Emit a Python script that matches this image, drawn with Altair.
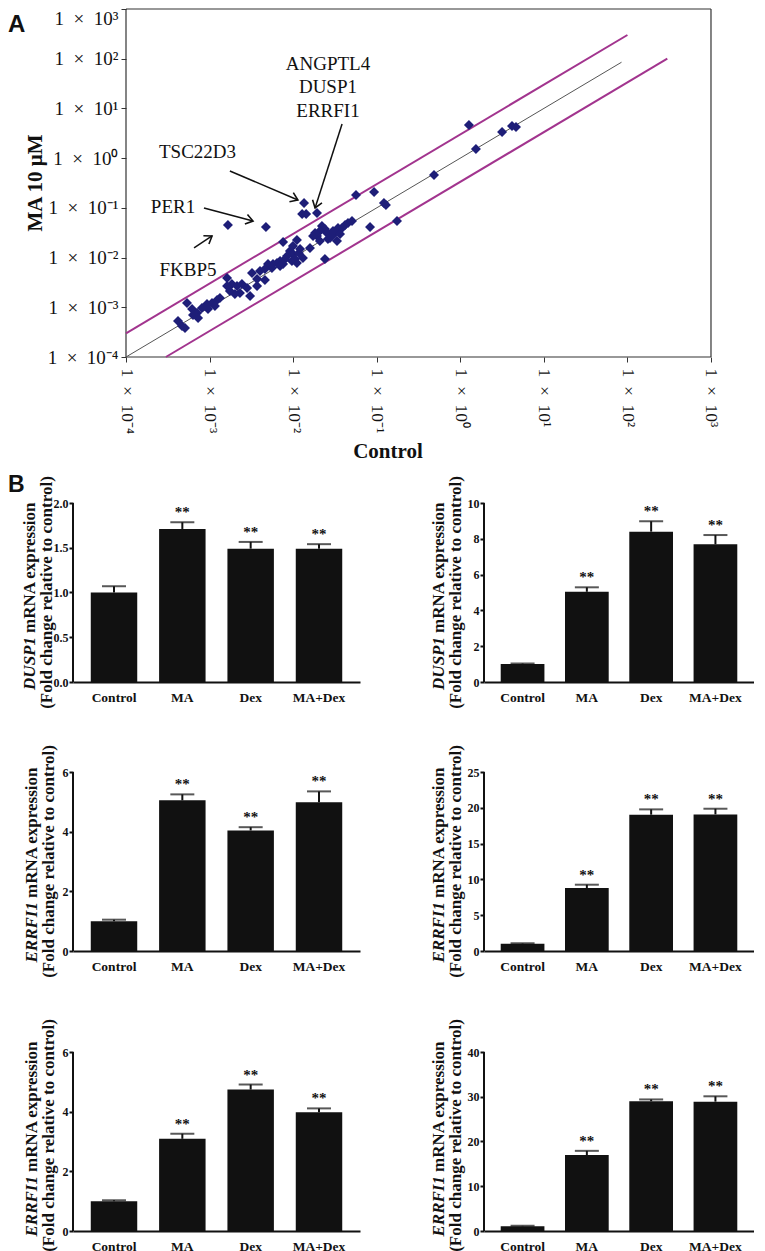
import altair as alt
import pandas as pd

SERIF = "Liberation Serif"
SANS = "Liberation Sans"
NAVY = "#1e1e78"
MAGENTA = "#a2348e"
INK = "#111111"

# ---------------- Panel A: scatter (Control vs MA 10 uM) ----------------
control = [1.66e-3, 4.73e-3, 1.35e-2, 1.28e-2, 1.43e-2, 1.93e-2, 5.65e-2, 9.29e-2, 0.129, 0.122,
           8.32e-2, 0.175, 7.57e-3, 1.11e-2, 1.59e-2, 2.40e-2, 1.27, 1.54, 3.16, 4.16,
           4.64, 0.485, 2.21e-2, 2.40e-2, 2.09e-2, 2.54e-2, 2.92e-2, 3.17e-2, 3.85e-2, 4.53e-2,
           5.06e-2, 4.18e-2, 3.44e-2, 2.61e-2, 1.93e-2, 1.83e-2, 2.09e-2, 3.00e-2, 3.64e-2, 2.76e-2,
           3.35e-2, 1.73e-2, 9.16e-3, 8.45e-3, 9.95e-3, 8.00e-3, 6.97e-3, 9.68e-3, 1.11e-2, 6.41e-3,
           5.74e-3, 7.57e-3, 1.17e-2, 1.31e-2, 9.95e-3, 1.05e-2, 1.21e-2, 5.00e-3, 5.58e-3, 4.60e-3,
           3.22e-3, 4.60e-3, 3.70e-3, 3.70e-3, 3.05e-3, 4.01e-3, 6.97e-3, 1.62e-3, 1.85e-3, 2.13e-3,
           2.44e-3, 2.81e-3, 2.31e-3, 2.01e-3, 1.75e-3, 1.62e-3, 5.37e-4, 6.17e-4, 7.08e-4, 8.11e-4,
           9.31e-4, 1.07e-3, 1.23e-3, 1.33e-3, 1.16e-3, 9.57e-4, 7.28e-4, 6.34e-4, 4.19e-4, 4.68e-4,
           5.08e-4]
ma10 = [0.0452, 0.0412, 0.125, 0.0752, 0.0752, 0.0787, 0.181, 0.208, 0.114, 0.125,
        0.0412, 0.0543, 0.0206, 0.0225, 0.0156, 9.35e-3, 4.64, 1.53, 3.36, 4.43,
        4.23, 0.458, 0.0432, 0.0375, 0.0342, 0.0312, 0.0272, 0.0312, 0.0393, 0.0495,
        0.0543, 0.0452, 0.0393, 0.0236, 0.0272, 0.0312, 0.0215, 0.0342, 0.0298, 0.0247,
        0.0215, 0.0272, 0.0136, 0.0107, 0.0118, 9.35e-3, 8.53e-3, 8.53e-3, 7.77e-3, 7.77e-3,
        7.42e-3, 7.42e-3, 0.0124, 9.8e-3, 0.0171, 9.35e-3, 0.0149, 7.42e-3, 6.17e-3, 5.89e-3,
        4.89e-3, 3.53e-3, 3.71e-3, 2.68e-3, 1.69e-3, 5.36e-3, 6.76e-3, 3.88e-3, 2.94e-3, 2.68e-3,
        2.94e-3, 2.44e-3, 1.94e-3, 1.85e-3, 2.12e-3, 2.68e-3, 1.22e-3, 9.23e-4, 7.67e-4, 9.66e-4,
        1.16e-3, 1.22e-3, 1.40e-3, 1.53e-3, 1.06e-3, 9.23e-4, 6.08e-4, 6.98e-4, 5.30e-4, 4.20e-4,
        3.83e-4]

tick_values = [1e-4, 1e-3, 1e-2, 1e-1, 1e0, 1e1, 1e2, 1e3]
tick_exponents = [-4, -3, -2, -1, 0, 1, 2, 3]
tick_labels = ["1\u2002\u00d7\u200210\u207b\u2074", "1\u2002\u00d7\u200210\u207b\u00b3",
               "1\u2002\u00d7\u200210\u207b\u00b2", "1\u2002\u00d7\u200210\u207b\u00b9",
               "1\u2002\u00d7\u200210\u2070", "1\u2002\u00d7\u200210\u00b9",
               "1\u2002\u00d7\u200210\u00b2", "1\u2002\u00d7\u200210\u00b3"]

# plot frame (axis range)
frame_x = [1e-4, 1e-4, 1e-4, 1e3]
frame_y = [1e3, 1e-4, 1e-4, 1e-4]
frame_x2 = [1e3, 1e3, 1e-4, 1e3]
frame_y2 = [1e3, 1e-4, 1e3, 1e3]

# reference lines: identity and 3-fold boundaries
fit_x, fit_y, fit_x2, fit_y2 = [1e-4], [1e-4], [85.0], [85.0]
band_x = [1e-4, 3e-4]
band_y = [3e-4, 1e-4]
band_x2 = [100.0, 300.0]
band_y2 = [300.0, 100.0]

gene_labels = ["ANGPTL4", "DUSP1", "ERRFI1", "TSC22D3", "PER1", "FKBP5"]
label_x = [2.61e-2, 2.61e-2, 2.61e-2, 7.18e-4, 3.65e-4, 5.52e-4]
label_y = [80.1, 27.0, 8.87, 1.30, 0.106, 5.75e-3]

arrow_x0 = [1.75e-3, 3.85e-2, 8.57e-4, 6.52e-4]
arrow_y0 = [0.551, 4.86, 0.0993, 0.0156]
arrow_x1 = [1.14e-2, 1.83e-2, 3.31e-3, 1.07e-3]
arrow_y1 = [0.144, 0.0993, 0.0543, 0.0272]
arrow_angle = [23, 108, 15, 326]

# ---------------- Panel B: bar charts ----------------
groups = ["Control", "MA", "Dex", "MA+Dex"]
stars = ["", "**", "**", "**"]

dusp1_a = [1.00, 1.71, 1.49, 1.49]
dusp1_a_err = [0.07, 0.075, 0.075, 0.05]
dusp1_b = [1.00, 5.04, 8.40, 7.69]
dusp1_b_err = [0.03, 0.25, 0.58, 0.52]
errfi1_a = [1.00, 5.05, 4.04, 4.99]
errfi1_a_err = [0.05, 0.20, 0.11, 0.36]
errfi1_b = [1.02, 8.80, 19.04, 19.08]
errfi1_b_err = [0.06, 0.46, 0.74, 0.79]
errfi1_c = [1.00, 3.09, 4.74, 3.98]
errfi1_c_err = [0.03, 0.17, 0.17, 0.13]
errfi1_d = [1.05, 16.96, 29.0, 28.9]
errfi1_d_err = [0.10, 0.95, 0.40, 1.20]

one = pd.DataFrame({"k": [0]})

# ---------- scatter ----------
LEFT_PAD = 53          # px between the panel's left edge and the 1e-4 position
DECADE_PX = 83.57
SC_W = LEFT_PAD + 7 * DECADE_PX
x_min = 10 ** (-4 - LEFT_PAD / DECADE_PX)

expr_parts = [f"abs(log(datum.value)/LN10 - ({e})) < 0.01 ? '{l}'"
              for e, l in zip(tick_exponents, tick_labels)]
label_expr = " : ".join(expr_parts) + " : ''"

xscale = alt.Scale(type="log", domain=[x_min, 1e3], nice=False)
yscale = alt.Scale(type="log", domain=[1e-4, 1e3], nice=False)

XAX = alt.Axis(values=tick_values, labelExpr=label_expr, labelAngle=90, labelAlign="left",
               labelBaseline="middle", labelFont=SERIF, labelFontSize=17.5, labelColor=INK,
               labelPadding=6, labelFlush=False, labelOverlap=False, tickSize=5,
               tickColor="#333", domain=False, grid=False, title=None)
YAX = alt.Axis(values=tick_values, labelExpr=label_expr, labelFont=SERIF, labelFontSize=19,
               labelColor=INK, labelPadding=3, labelFlush=False, labelOverlap=False,
               labelBaseline={"condition": {"test": "datum.value > 500", "value": "top"},
                              "value": "middle"},
               offset=-LEFT_PAD, tickSize=5, tickColor="#333", domain=False, grid=False,
               title=None)


def X(f):
    return alt.X(f, type="quantitative", scale=xscale, axis=XAX)


def Y(f):
    return alt.Y(f, type="quantitative", scale=yscale, axis=YAX)


pts = pd.DataFrame({"x": control, "y": ma10})
frame_df = pd.DataFrame({"x": frame_x, "y": frame_y, "x2": frame_x2, "y2": frame_y2})
fit_df = pd.DataFrame({"x": fit_x, "y": fit_y, "x2": fit_x2, "y2": fit_y2})
band_df = pd.DataFrame({"x": band_x, "y": band_y, "x2": band_x2, "y2": band_y2})
lab_df = pd.DataFrame({"x": label_x, "y": label_y, "t": gene_labels})
arr_df = pd.DataFrame({"x": arrow_x0, "y": arrow_y0, "x2": arrow_x1, "y2": arrow_y1,
                       "ang": arrow_angle})

frame_layer = alt.Chart(frame_df).mark_rule(color="#333333", strokeWidth=1.2).encode(
    x=X("x"), y=Y("y"), x2="x2", y2="y2")
fit_layer = alt.Chart(fit_df).mark_rule(color="#555555", strokeWidth=1).encode(
    x=X("x"), y=Y("y"), x2="x2", y2="y2")
band_layer = alt.Chart(band_df).mark_rule(color=MAGENTA, strokeWidth=2).encode(
    x=X("x"), y=Y("y"), x2="x2", y2="y2")
pt_layer = alt.Chart(pts).mark_point(shape="diamond", filled=True, size=100, color=NAVY,
                                     opacity=1, strokeWidth=0).encode(x=X("x"), y=Y("y"))
arrow_layer = alt.Chart(arr_df).mark_rule(color=INK, strokeWidth=1.5).encode(
    x=X("x"), y=Y("y"), x2="x2", y2="y2")
head_layer = alt.Chart(arr_df).mark_point(shape="M -1 -0.7 L 0 0 L -1 0.7", filled=False,
                                          size=200, color=INK, strokeWidth=1.6,
                                          opacity=1).encode(
    x=X("x2"), y=Y("y2"), angle=alt.Angle("ang:Q", scale=None))
text_layer = alt.Chart(lab_df).mark_text(font=SERIF, fontSize=19, color=INK, align="center",
                                         baseline="middle").encode(x=X("x"), y=Y("y"), text="t:N")
ytitle = alt.Chart(one).mark_text(text="MA 10 \u03bcM", font=SERIF, fontSize=21,
                                  fontWeight="bold", angle=270, align="center",
                                  baseline="middle", color=INK).encode(
    x=alt.value(-37), y=alt.value(174))
xtitle = alt.Chart(one).mark_text(text="Control", font=SERIF, fontSize=21,
                                  fontWeight="bold", align="center",
                                  baseline="middle", color=INK).encode(
    x=alt.value(315), y=alt.value(443))
a_layer = alt.Chart(one).mark_text(text="A", font=SANS, fontWeight="bold", fontSize=24,
                                   align="left", baseline="top", color=INK).encode(
    x=alt.value(-65), y=alt.value(4))
a_anchor = alt.Chart(one).mark_text(text="A", font=SANS, fontSize=10, opacity=0,
                                    align="left", baseline="bottom").encode(
    x=alt.value(-65), y=alt.value(460))

scatter = alt.layer(frame_layer, fit_layer, band_layer, pt_layer, arrow_layer, head_layer,
                    text_layer, ytitle, xtitle, a_layer, a_anchor).properties(
    width=SC_W, height=348)

# ---------- bar panels ----------
H = 179      # height of the value axis
TOP = 31     # room above the value axis (panel letter, title overflow)


def bar_panel(gene, means, errs, ymax, yticks, fmt, width, t1x, t2x, split, mid, bottom,
              show_b):
    df = pd.DataFrame({"group": groups, "mean": means, "err": errs, "star": stars})
    base = alt.Chart(df).transform_calculate(top="datum.mean + datum.err")
    xax = alt.Axis(title=None, labelAngle=0, labelFont=SERIF, labelFontWeight="bold",
                   labelFontSize=13.5, labelColor=INK, labelPadding=8, ticks=False,
                   domainColor=INK, domainWidth=2)
    xenc = alt.X("group:N", sort=groups,
                 scale=alt.Scale(paddingInner=0.32, paddingOuter=0.26), axis=xax)
    ysc = alt.Scale(domain=[0, ymax * (H + TOP) / H], nice=False, zero=True)
    yax = alt.Axis(title=None, values=yticks, format=fmt, grid=False, labelFont=SERIF,
                   labelFontWeight="bold", labelFontSize=12, labelColor=INK,
                   labelPadding=1, tickSize=4, tickWidth=2, tickColor=INK,
                   domain=False)
    bars = base.mark_bar(color=INK).encode(x=xenc, y=alt.Y("mean:Q", scale=ysc, axis=yax))
    stem = base.mark_rule(color=INK, strokeWidth=2).encode(
        x=xenc, y=alt.Y("mean:Q", scale=ysc, axis=yax), y2="top:Q")
    cap = base.mark_tick(color=INK, size=24, thickness=2).encode(
        x=xenc, y=alt.Y("top:Q", scale=ysc, axis=yax))
    star = base.mark_text(font=SERIF, fontWeight="bold", fontSize=15, color=INK,
                          baseline="middle", dy=-10).encode(
        x=xenc, y=alt.Y("top:Q", scale=ysc, axis=yax), text="star:N")
    yline = alt.Chart(one).mark_rule(color=INK, strokeWidth=2).encode(
        x=alt.value(0), y=alt.value(TOP), y2=alt.value(TOP + H))
    t_gene = alt.Chart(one).mark_text(text=gene, font=SERIF, fontSize=17, fontWeight="bold",
                                      fontStyle="italic", angle=270, align="right",
                                      baseline="middle", color=INK).encode(
        x=alt.value(t1x), y=alt.value(TOP + split))
    t_rest = alt.Chart(one).mark_text(text="mRNA expression", font=SERIF, fontSize=17,
                                      fontWeight="bold", angle=270, align="left",
                                      baseline="middle", color=INK).encode(
        x=alt.value(t1x), y=alt.value(TOP + split - 4))
    t_line2 = alt.Chart(one).mark_text(text="(Fold change relative to control)", font=SERIF,
                                       fontSize=17, fontWeight="bold", angle=270,
                                       align="center", baseline="middle", color=INK).encode(
        x=alt.value(t2x), y=alt.value(TOP + mid))
    anc_top = alt.Chart(one).mark_text(text="B", font=SANS, fontWeight="bold", fontSize=23,
                                       align="left", baseline="top", color=INK,
                                       opacity=1 if show_b else 0).encode(
        x=alt.value(-65), y=alt.value(2))
    layers = [bars, stem, cap, star, yline, t_gene, t_rest, t_line2, anc_top]
    if bottom is not None:
        anc_bot = alt.Chart(one).mark_text(text="B", font=SANS, fontSize=10, opacity=0,
                                           align="left", baseline="bottom").encode(
            x=alt.value(-65), y=alt.value(TOP + H + bottom))
        layers.append(anc_bot)
    return alt.layer(*layers).properties(width=width, height=H + TOP)


LW, RW = 287, 270
row1 = alt.hconcat(
    bar_panel("DUSP1", dusp1_a, dusp1_a_err, 2.0, [0, 0.5, 1.0, 1.5, 2.0], ".1f", LW,
              -43, -26, 134, H / 2, 56, True),
    bar_panel("DUSP1", dusp1_b, dusp1_b_err, 10, [0, 2, 4, 6, 8, 10], "d", RW,
              -45, -28, 134, H / 2, 56, False),
    spacing=59)
row2 = alt.hconcat(
    bar_panel("ERRFI1", errfi1_a, errfi1_a_err, 6, [0, 2, 4, 6], "d", LW,
              -41, -24, 130, H / 2, 65, False),
    bar_panel("ERRFI1", errfi1_b, errfi1_b_err, 25, [0, 5, 10, 15, 20, 25], "d", RW,
              -45, -28, 130, H / 2, 65, False),
    spacing=59)
row3 = alt.hconcat(
    bar_panel("ERRFI1", errfi1_c, errfi1_c_err, 6, [0, 2, 4, 6], "d", LW,
              -41, -24, 124, H / 2 - 6, None, False),
    bar_panel("ERRFI1", errfi1_d, errfi1_d_err, 40, [0, 10, 20, 30, 40], "d", RW,
              -45, -28, 124, H / 2 - 6, None, False),
    spacing=59)

chart = alt.vconcat(scatter, row1, row2, row3, spacing=3).properties(
    padding=0).configure_view(stroke=None)

chart.save("out.html", embed_options={"renderer": "svg", "actions": False})
